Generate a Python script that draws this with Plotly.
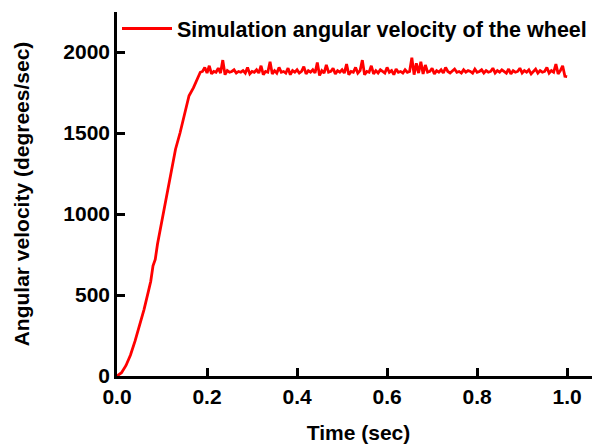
# %% Import
import plotly.graph_objects as go

# %% Data
rise_time = [0.0, 0.01, 0.02, 0.03, 0.04, 0.05, 0.06, 0.07, 0.075, 0.08, 0.085,
             0.09, 0.10, 0.11, 0.12, 0.13, 0.14, 0.15, 0.16, 0.17, 0.175, 0.18, 0.185]
rise_vel = [0, 20, 65, 130, 215, 305, 410, 525, 585, 680, 720,
            815, 960, 1120, 1270, 1400, 1500, 1620, 1730, 1780, 1810, 1850, 1875]

plateau_start = 0.19
plateau_step = 0.005
plateau_vel = [
    1880, 1905, 1870, 1915, 1865, 1880, 1875, 1900, 1870, 1950,
    1860, 1885, 1875, 1880, 1890, 1870, 1880, 1875, 1885, 1870,
    1905, 1865, 1880, 1875, 1890, 1870, 1915, 1860, 1880, 1875,
    1940, 1865, 1885, 1870, 1905, 1875, 1880, 1870, 1900, 1860,
    1885, 1875, 1890, 1870, 1880, 1910, 1865, 1885, 1875, 1890,
    1870, 1935, 1855, 1885, 1870, 1920, 1875, 1880, 1900, 1865,
    1885, 1875, 1890, 1870, 1925, 1860, 1880, 1875, 1905, 1870,
    1885, 1950, 1860, 1880, 1875, 1915, 1865, 1885, 1870, 1890,
    1880, 1870, 1905, 1875, 1885, 1860, 1895, 1875, 1880, 1870,
    1890, 1875, 1880, 1965, 1860, 1930, 1870, 1940, 1865, 1920,
    1875, 1880, 1900, 1865, 1885, 1875, 1890, 1870, 1905, 1880,
    1870, 1885, 1895, 1875, 1880, 1870, 1890, 1875, 1885, 1880,
    1870, 1895, 1875, 1880, 1890, 1870, 1885, 1875, 1880, 1900,
    1870, 1885, 1875, 1890, 1880, 1870, 1895, 1865, 1885, 1875,
    1880, 1900, 1870, 1885, 1875, 1890, 1865, 1880, 1895, 1870,
    1885, 1875, 1880, 1905, 1870, 1885, 1875, 1925, 1865, 1885,
    1915, 1850, 1848,
]
plateau_time = [round(plateau_start + i * plateau_step, 4) for i in range(len(plateau_vel))]

time = rise_time + plateau_time
velocity = rise_vel + plateau_vel

x_ticks = [0.0, 0.2, 0.4, 0.6, 0.8, 1.0]
y_ticks = [0, 500, 1000, 1500, 2000]

# %% Plot
font_family = "Liberation Sans, Arial, sans-serif"

fig = go.Figure()
fig.add_trace(go.Scatter(
    x=time, y=velocity, mode="lines",
    name="<b>Simulation angular velocity of the wheel</b>",
    line=dict(color="#ff0000", width=2.8),
    showlegend=True,
))

axis_style = dict(
    showline=True, linecolor="black", linewidth=2.5,
    ticks="inside", ticklen=8, tickwidth=2.5, tickcolor="black",
    showgrid=False, zeroline=False, automargin=False,
    tickfont=dict(family=font_family, size=21, color="black", weight="bold"),
)

# page body adds an 8px offset, so the figure is a bit smaller than the window
fig.update_layout(
    width=592, height=438,
    margin=dict(l=109, r=0, t=4, b=70, autoexpand=False),
    plot_bgcolor="white", paper_bgcolor="white",
    font=dict(family=font_family, color="black"),
    showlegend=True,
    legend=dict(x=0.0, y=1.02, xanchor="left", yanchor="top", yref="container",
                font=dict(family=font_family, size=21.5, color="black"),
                bgcolor="rgba(0,0,0,0)", itemwidth=50),
    xaxis=dict(range=[0, 1.073], tickvals=x_ticks, ticktext=[f"{v:.1f}" for v in x_ticks],
               title=dict(text="<b>Time (sec)</b>", font=dict(size=21), standoff=19),
               **axis_style),
    yaxis=dict(range=[0, 2247], tickvals=y_ticks,
               title=dict(text="<b>Angular velocity (degrees/sec)</b>", font=dict(size=21), standoff=28),
               **axis_style),
)

fig.write_html("out.html")
